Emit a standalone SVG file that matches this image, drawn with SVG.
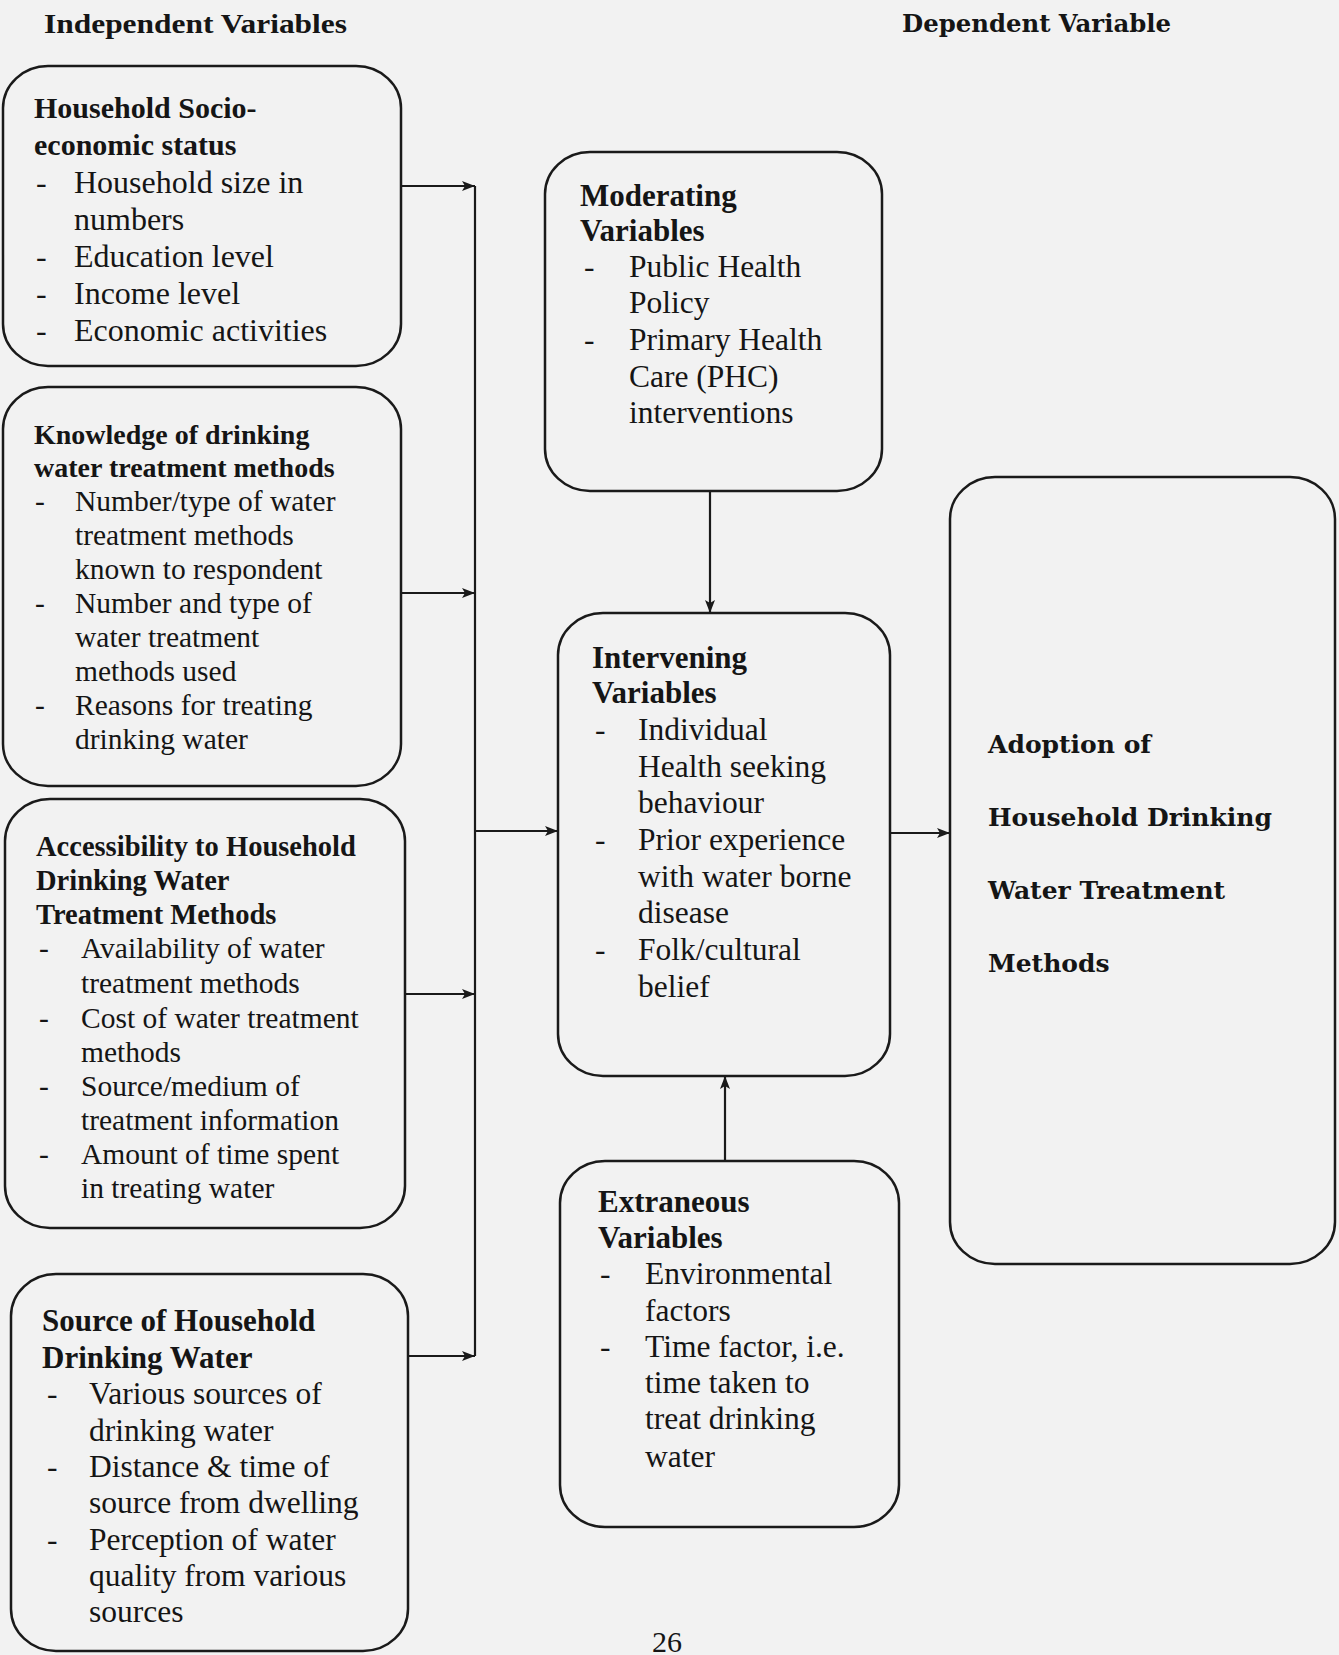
<svg xmlns="http://www.w3.org/2000/svg" width="1339" height="1655" viewBox="0 0 1339 1655">
<style>
.bg{fill:#f2f2f2}
.box{fill:none;stroke:#1a1a1a;stroke-width:2.5}
.t{font-family:"Liberation Serif","Times New Roman",serif;fill:#151515}
.b{font-weight:bold}
.hd{font-family:"Liberation Serif","Times New Roman",serif;font-weight:bold;fill:#151515;font-size:27px}
.dv{font-family:"DejaVu Serif","Liberation Serif",serif;font-weight:bold;fill:#151515;font-size:25px}
.c{fill:none;stroke:#1a1a1a;stroke-width:2.2}
</style>
<defs>
<marker id="ah" viewBox="0 0 13 10" refX="13" refY="5" markerWidth="13" markerHeight="10" markerUnits="userSpaceOnUse" orient="auto">
<path d="M0,0 L13,5 L0,10 L3,5 Z" fill="#1a1a1a"/>
</marker>
</defs>
<rect class="bg" x="0" y="0" width="1339" height="1655"/>

<text class="hd" x="44" y="33" textLength="303" lengthAdjust="spacingAndGlyphs">Independent Variables</text>
<text class="dv" x="902" y="32" font-size="24" textLength="269" lengthAdjust="spacingAndGlyphs">Dependent Variable</text>

<g id="connectors">
<path class="c" d="M475,186 V1356"/>
<path class="c" d="M401,186 H475" marker-end="url(#ah)"/>
<path class="c" d="M401,593 H475" marker-end="url(#ah)"/>
<path class="c" d="M405,994 H475" marker-end="url(#ah)"/>
<path class="c" d="M408,1356 H475" marker-end="url(#ah)"/>
<path class="c" d="M475,831 H558" marker-end="url(#ah)"/>
<path class="c" d="M710,491 V613" marker-end="url(#ah)"/>
<path class="c" d="M725,1161 V1076" marker-end="url(#ah)"/>
<path class="c" d="M890,833 H950" marker-end="url(#ah)"/>
</g>

<g id="socioeconomic">
<rect class="box" x="3" y="66" width="398" height="300" rx="45" ry="42"/>
<g class="t" font-size="32">
<text class="b" x="34" y="118" font-size="30">Household Socio-</text>
<text class="b" x="34" y="155" font-size="30">economic status</text>
<text x="36" y="193">-</text><text x="74" y="193">Household size in</text>
<text x="74" y="230">numbers</text>
<text x="36" y="267">-</text><text x="74" y="267">Education level</text>
<text x="36" y="304">-</text><text x="74" y="304">Income level</text>
<text x="36" y="341">-</text><text x="74" y="341">Economic activities</text>
</g>
</g>

<g id="knowledge">
<rect class="box" x="3" y="387" width="398" height="399" rx="45" ry="42"/>
<g class="t" font-size="29.5">
<text class="b" x="34" y="444" font-size="28">Knowledge of drinking</text>
<text class="b" x="34" y="477" font-size="28">water treatment methods</text>
<text x="35" y="511">-</text><text x="75" y="511">Number/type of water</text>
<text x="75" y="545">treatment methods</text>
<text x="75" y="579">known to respondent</text>
<text x="35" y="613">-</text><text x="75" y="613">Number and type of</text>
<text x="75" y="647">water treatment</text>
<text x="75" y="681">methods used</text>
<text x="35" y="715">-</text><text x="75" y="715">Reasons for treating</text>
<text x="75" y="749">drinking water</text>
</g>
</g>

<g id="accessibility">
<rect class="box" x="5" y="799" width="400" height="429" rx="45" ry="42"/>
<g class="t" font-size="29.5">
<text class="b" x="36" y="856" font-size="28.5">Accessibility to Household</text>
<text class="b" x="36" y="890" font-size="28.5">Drinking Water</text>
<text class="b" x="36" y="924" font-size="28.5">Treatment Methods</text>
<text x="39" y="958">-</text><text x="81" y="958">Availability of water</text>
<text x="81" y="993">treatment methods</text>
<text x="39" y="1028">-</text><text x="81" y="1028">Cost of water treatment</text>
<text x="81" y="1062">methods</text>
<text x="39" y="1096">-</text><text x="81" y="1096">Source/medium of</text>
<text x="81" y="1130">treatment information</text>
<text x="39" y="1164">-</text><text x="81" y="1164">Amount of time spent</text>
<text x="81" y="1198">in treating water</text>
</g>
</g>

<g id="source">
<rect class="box" x="11" y="1274" width="397" height="377" rx="45" ry="42"/>
<g class="t" font-size="31.5">
<text class="b" x="42" y="1331" font-size="31">Source of Household</text>
<text class="b" x="42" y="1368" font-size="31">Drinking Water</text>
<text x="47" y="1404">-</text><text x="89" y="1404">Various sources of</text>
<text x="89" y="1441">drinking water</text>
<text x="47" y="1477">-</text><text x="89" y="1477">Distance &amp; time of</text>
<text x="89" y="1513">source from dwelling</text>
<text x="47" y="1550">-</text><text x="89" y="1550">Perception of water</text>
<text x="89" y="1586">quality from various</text>
<text x="89" y="1622">sources</text>
</g>
</g>

<g id="moderating">
<rect class="box" x="545" y="152" width="337" height="339" rx="45" ry="42"/>
<g class="t" font-size="31.5">
<text class="b" x="580" y="206" font-size="31">Moderating</text>
<text class="b" x="580" y="241" font-size="31">Variables</text>
<text x="584" y="277">-</text><text x="629" y="277">Public Health</text>
<text x="629" y="313">Policy</text>
<text x="584" y="350">-</text><text x="629" y="350"> Primary Health</text>
<text x="629" y="387">Care (PHC)</text>
<text x="629" y="423">interventions</text>
</g>
</g>

<g id="intervening">
<rect class="box" x="558" y="613" width="332" height="463" rx="45" ry="42"/>
<g class="t" font-size="31.5">
<text class="b" x="592" y="668" font-size="31">Intervening</text>
<text class="b" x="592" y="703" font-size="31">Variables</text>
<text x="595" y="740">-</text><text x="638" y="740">Individual</text>
<text x="638" y="777">Health seeking</text>
<text x="638" y="813">behaviour</text>
<text x="595" y="850">-</text><text x="638" y="850">Prior experience</text>
<text x="638" y="887">with water borne</text>
<text x="638" y="923">disease</text>
<text x="595" y="960">-</text><text x="638" y="960">Folk/cultural</text>
<text x="638" y="997">belief</text>
</g>
</g>

<g id="extraneous">
<rect class="box" x="560" y="1161" width="339" height="366" rx="45" ry="42"/>
<g class="t" font-size="31.5">
<text class="b" x="598" y="1212" font-size="31">Extraneous</text>
<text class="b" x="598" y="1248" font-size="31">Variables</text>
<text x="600" y="1284">-</text><text x="645" y="1284">Environmental</text>
<text x="645" y="1321">factors</text>
<text x="600" y="1357">-</text><text x="645" y="1357"> Time factor, i.e.</text>
<text x="645" y="1393">time taken to</text>
<text x="645" y="1429">treat drinking</text>
<text x="645" y="1467">water</text>
</g>
</g>

<g id="dependent">
<rect class="box" x="950" y="477" width="385" height="787" rx="45" ry="42"/>
<text class="dv" x="988" y="753">Adoption of</text>
<text class="dv" x="988" y="826">Household Drinking</text>
<text class="dv" x="988" y="899">Water Treatment</text>
<text class="dv" x="988" y="972">Methods</text>
</g>

<text class="t" x="652" y="1652" font-size="30">26</text>
</svg>
